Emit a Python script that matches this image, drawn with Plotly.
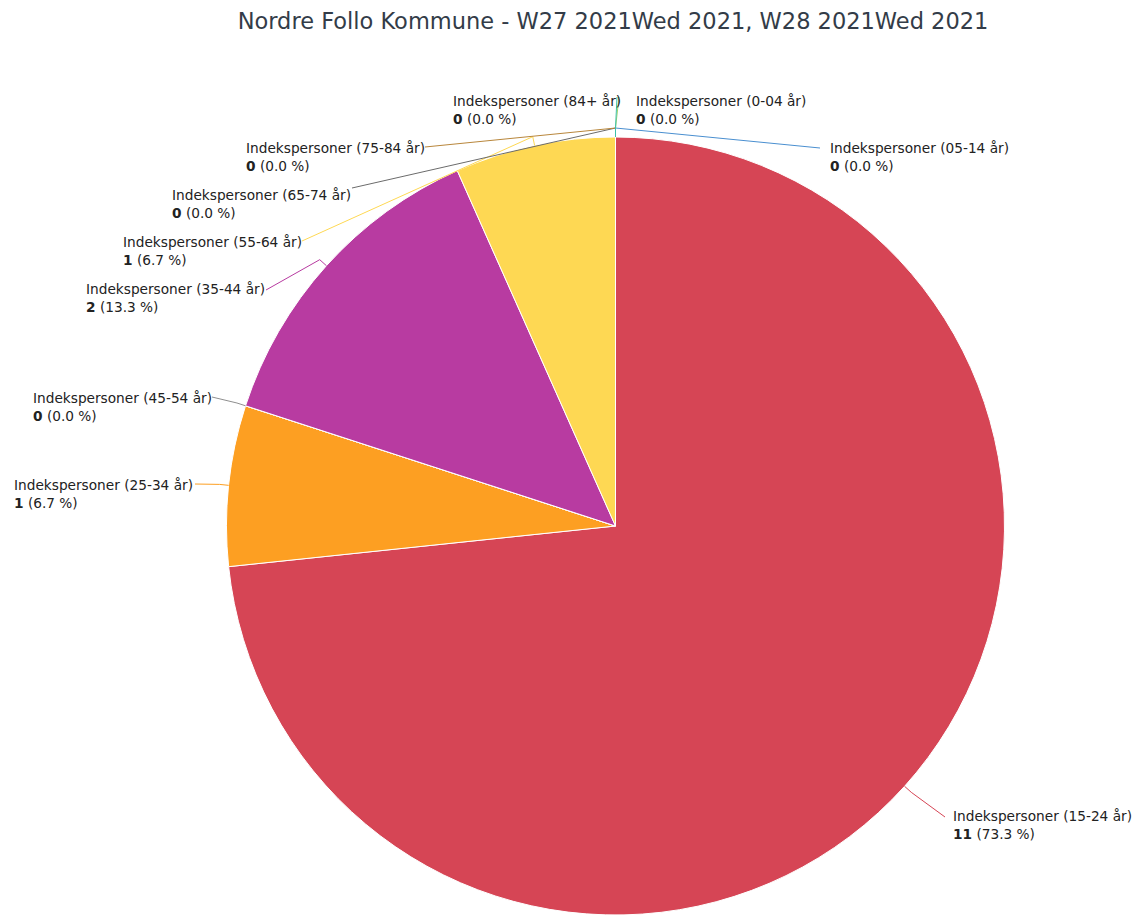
import math
import plotly.graph_objects as go

# ---------------- data ----------------
categories = [
    "Indekspersoner (0-04 år)",
    "Indekspersoner (05-14 år)",
    "Indekspersoner (15-24 år)",
    "Indekspersoner (25-34 år)",
    "Indekspersoner (45-54 år)",
    "Indekspersoner (35-44 år)",
    "Indekspersoner (55-64 år)",
    "Indekspersoner (65-74 år)",
    "Indekspersoner (75-84 år)",
    "Indekspersoner (84+ år)",
]
values = [0, 0, 11, 1, 0, 2, 1, 0, 0, 0]
title_text = "Nordre Follo Kommune - W27 2021Wed 2021, W28 2021Wed 2021"

# ---------------- styles ----------------
colors = ["#9fd36a", "#4a8fd0", "#d64555", "#fd9f22", "#8f8f8f",
          "#b83ba1", "#fed853", "#6b6b6b", "#b8863b", "#3cc0a8"]

W, H = 1141, 915
OFF = 8  # page body margin (screen px -> figure px)

# pie placement in screen pixels
PIE_CX, PIE_CY, PIE_R = 615.5, 526.0, 389.0

# label layout (screen px): connector end, label side, label text edge x, first line y
label_layout = [
    ((619, 97), "left", 636, 101),
    ((820, 148), "left", 830, 148),
    ((945, 817), "left", 953, 816),
    ((195, 484), "right", 192, 485),
    ((212, 397), "right", 211, 398),
    ((266, 290), "right", 264, 289),
    ((302, 241), "right", 301, 242),
    ((352, 188), "right", 350, 195),
    ((425, 147), "right", 424, 148),
    ((617, 97), "right", 620, 101),
]

def px(x):
    return (x - OFF) / W

def py(y):
    return 1 - (y - OFF) / H

# domain derived so the pie's radius/centre land where wanted
dom_x = [px(PIE_CX) - 0.36, px(PIE_CX) + 0.36]
dom_y = [py(PIE_CY + PIE_R), py(PIE_CY - PIE_R)]

fig = go.Figure(go.Pie(
    labels=categories,
    values=values,
    sort=False,
    direction="clockwise",
    rotation=0,
    marker=dict(colors=colors, line=dict(color="white", width=1)),
    textinfo="none",
    hoverinfo="label+value+percent",
    domain=dict(x=dom_x, y=dom_y),
    showlegend=False,
))

# pie geometry in screen pixels (derived from the domain)
dw = (dom_x[1] - dom_x[0]) * W
dh = (dom_y[1] - dom_y[0]) * H
r = min(dw, dh) / 2
cx = (dom_x[0] + dom_x[1]) / 2 * W + OFF
cy = H - (dom_y[0] + dom_y[1]) / 2 * H + OFF

total = sum(values)
cum = 0
shapes = []
annotations = []
for cat, v, col, (end, side, tx, ty) in zip(categories, values, colors, label_layout):
    a0 = cum / total * 360
    cum += v
    a1 = cum / total * 360
    mid = math.radians((a0 + a1) / 2)
    x0 = cx + r * math.sin(mid)
    y0 = cy - r * math.cos(mid)
    x1 = cx + (r + 9) * math.sin(mid)
    y1 = cy - (r + 9) * math.cos(mid)
    path = f"M {px(x0)},{py(y0)} L {px(x1)},{py(y1)} L {px(end[0])},{py(end[1])}"
    shapes.append(dict(type="path", path=path, xref="paper", yref="paper",
                       line=dict(color=col, width=1)))
    pct = v / total * 100
    text = f"{cat}<br><b>{v}</b> ({pct:.1f} %)"
    if side == "left":
        ax = tx - 2
        xanchor = "left"
    else:
        ax = tx + 3
        xanchor = "right"
    annotations.append(dict(
        x=px(ax), y=py(ty - 10), xref="paper", yref="paper",
        text=text, showarrow=False, xanchor=xanchor, yanchor="top",
        align="left", font=dict(family="DejaVu Sans", size=13.7, color="#222222"),
    ))

fig.update_layout(
    width=W, height=H,
    margin=dict(l=0, r=0, t=0, b=0),
    paper_bgcolor="white",
    plot_bgcolor="white",
    title=dict(text=title_text, x=px(613), xanchor="center",
               y=py(21), yanchor="middle", yref="container",
               font=dict(family="DejaVu Sans", size=22.5, color="#333c48")),
    shapes=shapes,
    annotations=annotations,
)

fig.write_html("out.html")
